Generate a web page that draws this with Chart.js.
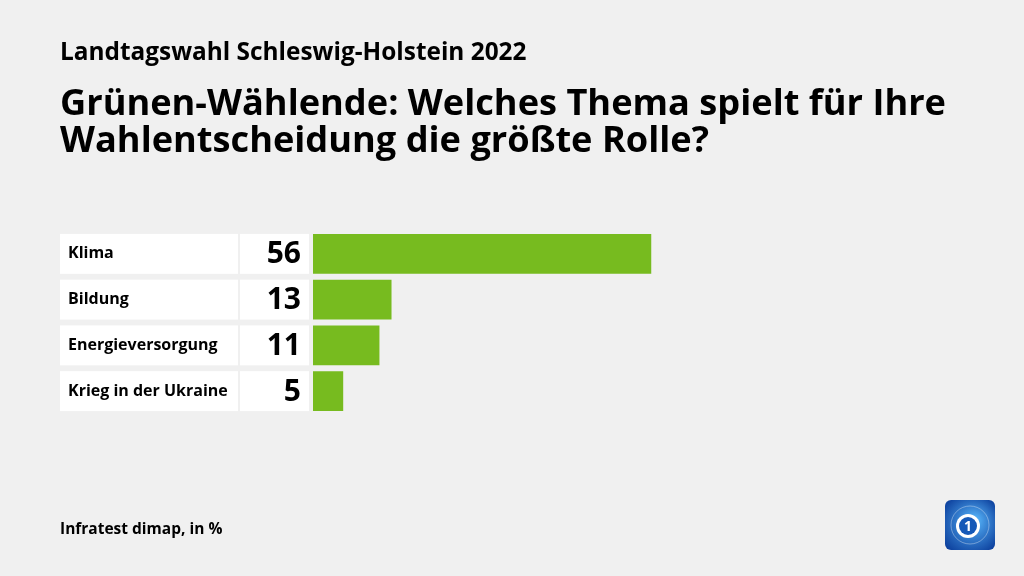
<!DOCTYPE html>
<html>
<head>
<meta charset="utf-8">
<script src="https://cdn.jsdelivr.net/npm/chart.js@4.4.0/dist/chart.umd.min.js"></script>
<style>
  html, body { margin: 0; padding: 0; background: #f0f0f0; }
  #wrap { width: 1024px; height: 576px; position: relative; }
</style>
</head>
<body>
<div id="wrap"><canvas id="chart" width="1024" height="576"></canvas></div>
<script>
const subtitle = 'Landtagswahl Schleswig-Holstein 2022'
const titleLines = ['Grünen-Wählende: Welches Thema spielt für Ihre', 'Wahlentscheidung die größte Rolle?']
const source = 'Infratest dimap, in %'
const categories = ['Klima', 'Bildung', 'Energieversorgung', 'Krieg in der Ukraine']
const values = [56, 13, 11, 5]

const FONT = '"Open Sans", "Noto Sans", sans-serif'
const barColor = '#77bb1f'

// draws the label boxes, value boxes, titles and the logo around the bars
const decor = {
  id: 'decor',
  beforeDatasetsDraw(chart) {
    const ctx = chart.ctx
    const bar = chart.getDatasetMeta(0).data
    ctx.save()
    bar.forEach((b, i) => {
      const top = b.y - b.height / 2
      ctx.fillStyle = '#ffffff'
      ctx.fillRect(60, top, 178, b.height)
      ctx.fillRect(240, top, 69, b.height)
      ctx.fillStyle = '#000'
      ctx.textBaseline = 'middle'
      ctx.textAlign = 'left'
      ctx.font = `bold 16px ${FONT}`
      ctx.fillText(categories[i], 68, b.y)
      ctx.textAlign = 'right'
      ctx.font = `bold 30px ${FONT}`
      ctx.fillText(String(values[i]), 301, b.y + 1)
    })
    ctx.restore()
  },
  afterDraw(chart) {
    const ctx = chart.ctx
    ctx.save()
    ctx.fillStyle = '#000'
    ctx.textAlign = 'left'
    ctx.textBaseline = 'alphabetic'
    ctx.font = `bold 24.4px ${FONT}`
    ctx.fillText(subtitle, 60, 60)
    ctx.font = `bold 36.2px ${FONT}`
    ctx.fillText(titleLines[0], 60, 115)
    ctx.fillText(titleLines[1], 60, 152)
    ctx.font = `bold 15.5px ${FONT}`
    ctx.fillText(source, 60, 534)

    // logo
    const lx = 945, ly = 500, s = 50
    const g = ctx.createRadialGradient(lx + 30, ly + 20, 4, lx + 25, ly + 25, 34)
    g.addColorStop(0, '#4fa8f0')
    g.addColorStop(1, '#0a3c9a')
    ctx.fillStyle = g
    ctx.beginPath()
    ctx.roundRect(lx, ly, s, s, 6)
    ctx.fill()
    ctx.strokeStyle = 'rgba(255,255,255,0.35)'
    ctx.lineWidth = 1
    ctx.beginPath()
    ctx.arc(lx + 25, ly + 25, 19, 0, Math.PI * 2)
    ctx.stroke()
    ctx.fillStyle = '#ffffff'
    ctx.beginPath()
    ctx.arc(lx + 23, ly + 26, 12, 0, Math.PI * 2)
    ctx.fill()
    ctx.fillStyle = '#1559b8'
    ctx.beginPath()
    ctx.arc(lx + 23, ly + 26, 9, 0, Math.PI * 2)
    ctx.fill()
    ctx.fillStyle = '#ffffff'
    ctx.font = `bold 14px ${FONT}`
    ctx.textAlign = 'center'
    ctx.textBaseline = 'middle'
    ctx.fillText('1', lx + 23, ly + 27)
    ctx.restore()
  }
}

new Chart(document.getElementById('chart'), {
  type: 'bar',
  data: {
    labels: categories,
    datasets: [{
      data: values,
      backgroundColor: barColor,
      borderWidth: 0,
      barPercentage: 0.873,
      categoryPercentage: 1,
    }]
  },
  options: {
    indexAxis: 'y',
    responsive: false,
    animation: false,
    layout: { padding: { left: 313, right: 107, top: 231, bottom: 162 } },
    plugins: { legend: { display: false }, tooltip: { enabled: false } },
    scales: {
      x: { display: false, min: 0, max: 100 },
      y: { display: false }
    }
  },
  plugins: [decor]
})
</script>
</body>
</html>
